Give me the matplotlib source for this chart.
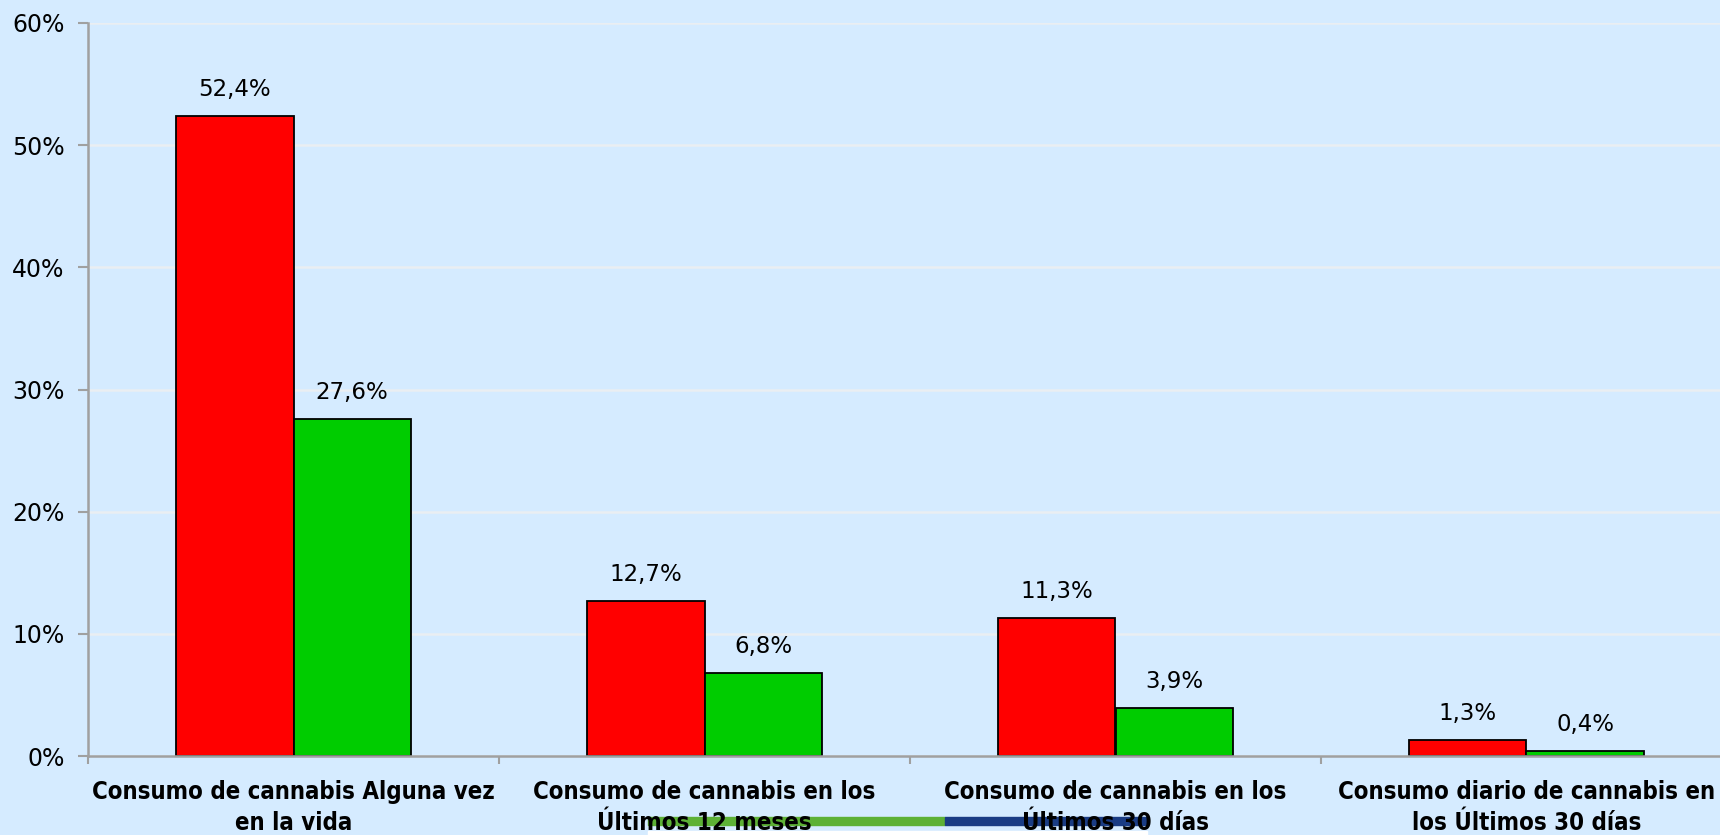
import numpy as np
import matplotlib
matplotlib.use("Agg")
import matplotlib.pyplot as plt
from matplotlib.patches import Rectangle

# datos del grafico
categorias = [
    "Consumo de cannabis Alguna vez\nen la vida",
    "Consumo de cannabis en los\nÚltimos 12 meses",
    "Consumo de cannabis en los\nÚltimos 30 días",
    "Consumo diario de cannabis en\nlos Últimos 30 días",
]
serie_roja = [52.4, 12.7, 11.3, 1.3]
serie_verde = [27.6, 6.8, 3.9, 0.4]
ticks_y = [0, 10, 20, 30, 40, 50, 60]

fondo = "#D5EBFF"
W, H = 1720, 835

fig = plt.figure(figsize=(W / 100, H / 100), dpi=100, facecolor=fondo)
ax = fig.add_axes([88 / W, (H - 756) / H, 1644 / W, (756 - 23) / H])
ax.set_facecolor(fondo)

x = np.arange(len(categorias))
ancho = 0.285
b1 = ax.bar(x - ancho / 2, serie_roja, ancho, color="#FF0000", edgecolor="black", linewidth=1.3)
b2 = ax.bar(x + ancho / 2, serie_verde, ancho, color="#00CC00", edgecolor="black", linewidth=1.3)

# etiquetas de valor
for barras, vals in [(b1, serie_roja), (b2, serie_verde)]:
    for b, v in zip(barras, vals):
        ax.annotate(f"{v:.1f}%".replace(".", ","),
                    (b.get_x() + b.get_width() / 2, v),
                    textcoords="offset points", xytext=(0, 11),
                    ha="center", va="bottom", fontsize=16.5, color="black")

ax.set_xlim(-0.5, len(categorias) - 0.5)
ax.set_ylim(0, 60)
ax.set_yticks(ticks_y)
ax.set_yticklabels([f"{t}%" for t in ticks_y], fontsize=17)
ax.yaxis.grid(True, color="#EAEEF2", linewidth=1.8)
ax.set_axisbelow(True)

ax.set_xticks(x)
ax.set_xticklabels(categorias, fontsize=17.2, fontweight="bold", fontstretch="condensed",
                   family=["DejaVu Sans"], linespacing=1.36)
ax.set_xticks(np.arange(-0.5, len(categorias), 1), minor=True)
ax.tick_params(axis="x", which="major", length=0, pad=17.5)
ax.tick_params(axis="x", which="minor", length=6, width=1.5, color="#A0A0A0")
ax.tick_params(axis="y", length=7, width=1.5, color="#A0A0A0", pad=10)

for lado in ["top", "right"]:
    ax.spines[lado].set_visible(False)
for lado in ["left", "bottom"]:
    ax.spines[lado].set_color("#A0A0A0")
    ax.spines[lado].set_linewidth(1.8)

# adorno inferior de la diapositiva
fig.add_artist(Rectangle((648 / W, (H - 825) / H), (945 - 648) / W, 8 / H,
                         transform=fig.transFigure, color="#5DB135", zorder=-1))
fig.add_artist(Rectangle((945 / W, (H - 825) / H), (1147 - 945) / W, 8 / H,
                         transform=fig.transFigure, color="#1A3C84", zorder=-1))
fig.add_artist(Rectangle((648 / W, 0), (1147 - 648) / W, 4 / H,
                         transform=fig.transFigure, color="white", zorder=-1))

fig.savefig("out.png", dpi=100, facecolor=fondo)
